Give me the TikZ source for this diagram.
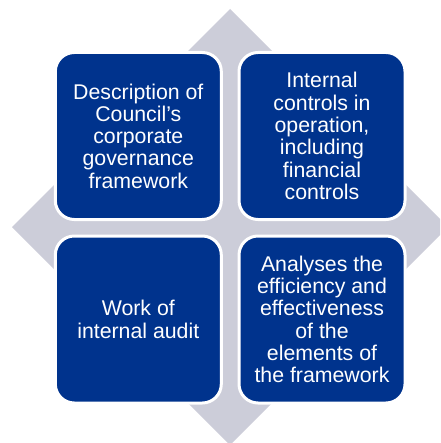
\documentclass[tikz,border=0pt]{standalone}
\usepackage{fontspec}
\setmainfont{Liberation Sans}
\definecolor{boxblue}{RGB}{0,51,141}
\definecolor{diamondgray}{RGB}{204,205,217}
\begin{document}
\begin{tikzpicture}[x=1pt,y=-1pt,
  quad/.style={draw=white, line width=3pt, fill=boxblue, rounded corners=19pt,
    minimum width=166pt, minimum height=167pt, inner sep=0pt,
    text=white, align=center,
    font=\fontsize{21.3pt}{22.3pt}\selectfont}]
\useasboundingbox (0,0) rectangle (440,443);
\clip (0,0) rectangle (440,443);
\fill[diamondgray] (230,9) -- (448,227) -- (230,445) -- (12,227) -- cycle;
\node[quad] (tl) at (138.3,136) {Description of\\Council’s\\corporate\\governance\\framework};
\node[quad] (tr) at (322,136) {Internal\\controls in\\operation,\\including\\financial\\controls};
\node[quad] (bl) at (138.3,319.5) {Work of\\internal audit};
\node[quad] (br) at (322,319.5) {Analyses the\\efficiency and\\effectiveness\\of the\\elements of\\the framework};
\end{tikzpicture}
\end{document}
